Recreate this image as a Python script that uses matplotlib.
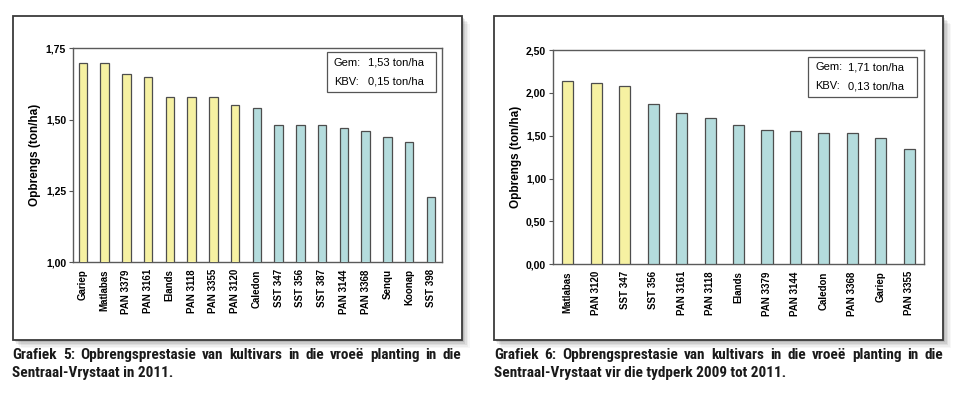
import matplotlib
matplotlib.use("Agg")
import matplotlib.pyplot as plt
from matplotlib.patches import Rectangle
from matplotlib import font_manager as fm

# ---- data ----
cult5 = ["Gariep", "Matlabas", "PAN 3379", "PAN 3161", "Elands", "PAN 3118", "PAN 3355",
         "PAN 3120", "Caledon", "SST 347", "SST 356", "SST 387", "PAN 3144", "PAN 3368",
         "Senqu", "Koonap", "SST 398"]
yield5 = [1.70, 1.70, 1.66, 1.65, 1.58, 1.58, 1.58, 1.55, 1.54, 1.48, 1.48, 1.48, 1.47,
          1.46, 1.44, 1.42, 1.23]
top5 = [True] * 8 + [False] * 9
ticks5 = [1.00, 1.25, 1.50, 1.75]
gem5, kbv5 = "1,53 ton/ha", "0,15 ton/ha"

cult6 = ["Matlabas", "PAN 3120", "SST 347", "SST 356", "PAN 3161", "PAN 3118", "Elands",
         "PAN 3379", "PAN 3144", "Caledon", "PAN 3368", "Gariep", "PAN 3355"]
yield6 = [2.14, 2.11, 2.08, 1.87, 1.76, 1.71, 1.63, 1.57, 1.56, 1.53, 1.53, 1.47, 1.34]
top6 = [True] * 3 + [False] * 10
ticks6 = [0.00, 0.50, 1.00, 1.50, 2.00, 2.50]
gem6, kbv6 = "1,71 ton/ha", "0,13 ton/ha"

cap5 = ["Grafiek 5: Opbrengsprestasie van kultivars in die vroeë planting in die",
        "Sentraal-Vrystaat in 2011."]
cap6 = ["Grafiek 6: Opbrengsprestasie van kultivars in die vroeë planting in die",
        "Sentraal-Vrystaat vir die tydperk 2009 tot 2011."]

YELLOW = "#f6f1a2"
BLUE = "#b4dcdd"
EDGE = "#4d4d4d"

W, H = 960, 396
fig = plt.figure(figsize=(W / 100, H / 100), dpi=100)
fig.patch.set_facecolor("white")

def px_rect(x0, y0, x1, y1):
    return [x0 / W, 1 - y1 / H, (x1 - x0) / W, (y1 - y0) / H]

def panel_frame(x0, y0, x1, y1):
    for i, a in enumerate([0.10, 0.08, 0.06, 0.04, 0.03]):
        off = 2 + i * 1.5
        r = Rectangle(((x0 + off) / W, 1 - (y1 + off) / H), (x1 - x0) / W, (y1 - y0) / H,
                      transform=fig.transFigure, facecolor="black", alpha=a,
                      edgecolor="none", zorder=0)
        fig.patches.append(r)
    r = Rectangle((x0 / W, 1 - y1 / H), (x1 - x0) / W, (y1 - y0) / H,
                  transform=fig.transFigure, facecolor="white", edgecolor="#3a3a3a",
                  linewidth=1.3, zorder=1)
    fig.patches.append(r)

panel_frame(12.5, 15.7, 461.5, 340)
panel_frame(493.5, 16, 943, 340)

TICKFONT = dict(family="Liberation Sans", weight="bold")

def bar_panel(rect, cats, vals, tops, ticks, ylim, xlim, gem, kbv, legend_rect, ylab_x):
    ax = fig.add_axes(px_rect(*rect), zorder=2)
    ax.set_facecolor("white")
    x = list(range(len(cats)))
    colors = [YELLOW if t else BLUE for t in tops]
    ax.bar(x, vals, width=0.39, color=colors, edgecolor=EDGE, linewidth=0.9, zorder=3)
    ax.set_ylim(*ylim)
    ax.set_xlim(*xlim)
    ax.set_yticks(ticks)
    ax.set_yticklabels([f"{t:.2f}".replace(".", ",") for t in ticks],
                       fontsize=7.5, **TICKFONT)
    ax.set_xticks(x)
    ax.set_xticklabels(cats, rotation=90, fontsize=7, **TICKFONT)
    ax.tick_params(axis="x", length=0, pad=5)
    ax.tick_params(axis="y", length=3, width=0.8, color="#555555", pad=2)
    for s in ax.spines.values():
        s.set_color("#5a5a5a")
        s.set_linewidth(1.0)
    ax.set_ylabel("Opbrengs (ton/ha)", fontsize=8.5, **TICKFONT)
    ax.yaxis.set_label_coords((ylab_x - rect[0]) / (rect[2] - rect[0]), 0.5)
    lx0, ly0, lx1, ly1 = legend_rect
    bx0 = (lx0 - rect[0]) / (rect[2] - rect[0])
    bx1 = (lx1 - rect[0]) / (rect[2] - rect[0])
    by1 = 1 - (ly0 - rect[1]) / (rect[3] - rect[1])
    by0 = 1 - (ly1 - rect[1]) / (rect[3] - rect[1])
    ax.add_patch(Rectangle((bx0, by0), bx1 - bx0, by1 - by0, transform=ax.transAxes,
                           facecolor="white", edgecolor="#555555", linewidth=0.9,
                           zorder=5))
    lab_x = bx0 + 7 / (rect[2] - rect[0])
    val_x = bx0 + 40.5 / (rect[2] - rect[0])
    ya = by1 - (by1 - by0) * 0.26
    yb = by1 - (by1 - by0) * 0.74
    for lab, val, yy in [("Gem:", gem, ya), ("KBV:", kbv, yb)]:
        ax.text(lab_x, yy, lab, transform=ax.transAxes, fontsize=8,
                family="Liberation Sans", va="center", ha="left", zorder=6)
        ax.text(val_x, yy, val, transform=ax.transAxes, fontsize=8,
                family="Liberation Sans", va="center", ha="left", zorder=6)
    return ax

bar_panel((73, 48.3, 441.7, 262.3), cult5, yield5, top5, ticks5, (1.0, 1.75),
          (-0.45, len(cult5) - 0.5), gem5, kbv5, (327, 52.3, 435.7, 92.3), 41)
bar_panel((553, 50, 924.3, 264.3), cult6, yield6, top6, ticks6, (0.0, 2.5),
          (-0.52, len(cult6) - 0.47), gem6, kbv6, (808, 56.7, 917, 96.7), 522)

def pick_caption_font():
    names = {f.name for f in fm.fontManager.ttflist}
    for n in ["Roboto Condensed", "Liberation Sans Narrow", "Barlow Semi Condensed",
              "Asap Condensed", "Barlow Condensed"]:
        if n in names:
            return dict(family=n)
    return dict(family="DejaVu Sans", fontstretch="condensed")

CAPFONT = dict(weight="bold", color="#1a1a1a", **pick_caption_font())

def caption(lines, x0, x1, y_first, dy, size):
    renderer = fig.canvas.get_renderer()
    words = lines[0].split(" ")
    texts = [fig.text(0, 1 - y_first / H, w, va="center", ha="left", fontsize=size,
                      **CAPFONT) for w in words]
    widths = [t.get_window_extent(renderer=renderer).width for t in texts]
    min_gap = 5
    total = sum(widths) + min_gap * (len(words) - 1)
    if total > (x1 - x0):
        scale = ((x1 - x0) - min_gap * (len(words) - 1)) / sum(widths)
        size = size * scale
        for t in texts:
            t.set_fontsize(size)
        widths = [t.get_window_extent(renderer=renderer).width for t in texts]
    gap = ((x1 - x0) - sum(widths)) / (len(words) - 1)
    xpos = x0
    for t, w in zip(texts, widths):
        t.set_x(xpos / W)
        xpos += w + gap
    fig.text(x0 / W, 1 - (y_first + dy) / H, lines[1], va="center", ha="left",
             fontsize=size, **CAPFONT)

caption(cap5, 12.5, 461, 355, 18.5, 11)
caption(cap6, 494, 943, 355, 18.5, 11)

fig.savefig("out.png", dpi=100, facecolor="white")
